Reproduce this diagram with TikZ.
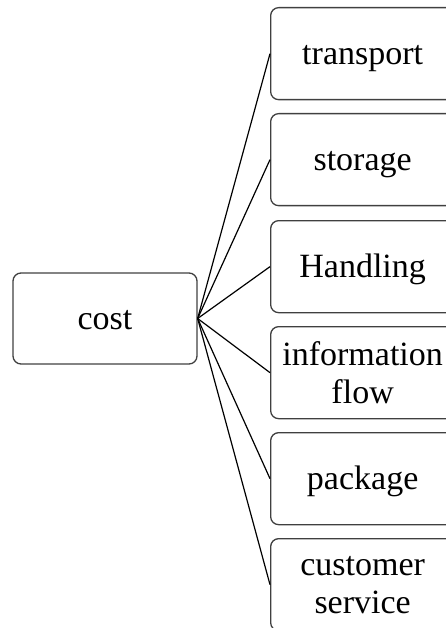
\documentclass[tikz,border=0pt]{standalone}
\usepackage{fontspec}
\setmainfont{Liberation Serif}
\usetikzlibrary{positioning}

\tikzset{
	costbox/.style={draw=black!75, line width=1.3pt, rounded corners=8pt,
		minimum width=184pt, minimum height=91pt, inner sep=0pt,
		align=center, font=\fontsize{34}{38}\selectfont},
	itembox/.style={costbox, minimum height=92pt, anchor=north west},
	oneline/.style={text height=22pt, text depth=0pt},
	twoline/.style={},
	link/.style={line width=1.2pt}
}

\begin{document}
\begin{tikzpicture}[x=1pt,y=-1pt]
		\useasboundingbox (0,0) rectangle (445,628);
		\node[costbox,oneline] (cost) at (105,318.5) {cost};
		\foreach \top/\name/\kind/\txt in {7/transport/oneline/transport,
			113/storage/oneline/storage, 220/handling/oneline/Handling,
			326/info/twoline/{information\\flow}, 432/package/oneline/package,
			538/service/twoline/{customer\\service}}{
			\node[itembox,\kind] (\name) at (270,\top) {\txt};
			\draw[link] (cost.east) -- (\name.west);
		}
		\end{tikzpicture}
\end{document}
